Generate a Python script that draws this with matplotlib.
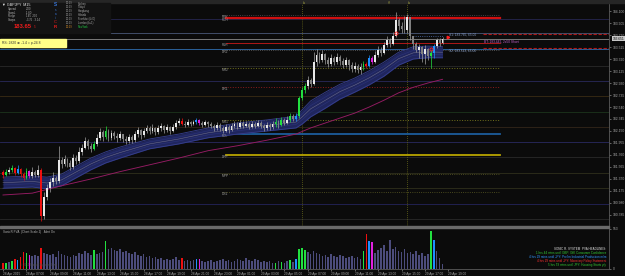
import matplotlib
matplotlib.use("Agg")
import matplotlib.pyplot as plt
import matplotlib.transforms as mtransforms
from matplotlib.patches import Rectangle
import numpy as np

plt.rcParams['font.family'] = ['Liberation Sans', 'DejaVu Sans']

W, H = 625, 276
BG = '#0b0b0b'

# GBPJPY M15 bars, 28 Apr 2015 05:00 -> 29 Apr 18:30
first_open = 181.49
closes = [
    181.44, 181.49, 181.52, 181.55, 181.47, 181.53, 181.45, 181.39, 181.50, 181.42,
    181.49, 181.44, 181.52, 180.77, 181.08, 181.22, 181.32, 181.39, 181.34, 181.68,
    181.61, 181.70, 181.63, 181.57, 181.71, 181.66, 181.81, 181.87, 181.99, 181.91,
    181.86, 181.94, 182.04, 182.14, 182.05, 182.15, 182.04, 182.12, 182.07, 182.04,
    182.10, 182.02, 181.99, 182.05, 182.00, 182.10, 182.17, 182.09, 182.15, 182.20,
    182.15, 182.20, 182.14, 182.20, 182.23, 182.17, 182.22, 182.15, 182.22, 182.28,
    182.31, 182.26, 182.25, 182.30, 182.26, 182.30, 182.33, 182.28, 182.25, 182.30,
    182.26, 182.23, 182.20, 182.25, 182.20, 182.15, 182.22, 182.17, 182.23, 182.26,
    182.22, 182.28, 182.23, 182.26, 182.22, 182.26, 182.23, 182.28, 182.23, 182.20,
    182.25, 182.22, 182.26, 182.30, 182.25, 182.33, 182.28, 182.33, 182.39, 182.35,
    182.39, 182.69, 182.82, 182.88, 182.98, 182.91, 183.27, 183.39, 183.30, 183.40,
    183.30, 183.24, 183.34, 183.27, 183.35, 183.29, 183.22, 183.30, 183.22, 183.16,
    183.21, 183.14, 183.19, 183.24, 183.21, 183.34, 183.27, 183.39, 183.47, 183.42,
    183.55, 183.63, 183.56, 183.69, 183.95, 183.86, 183.81, 183.79, 184.00, 183.69,
    183.56, 183.47, 183.52, 183.40, 183.48, 183.37, 183.42, 183.53, 183.63, 183.58,
    183.65]
highs = [
    181.52, 181.53, 181.57, 181.60, 181.57, 181.60, 181.55, 181.49, 181.55, 181.52,
    181.57, 181.52, 181.60, 181.55, 181.16, 181.29, 181.39, 181.49, 181.42, 181.91,
    181.73, 181.76, 181.71, 181.68, 181.78, 181.76, 181.89, 181.94, 182.05, 182.02,
    181.96, 181.99, 182.10, 182.20, 182.17, 182.23, 182.18, 182.17, 182.15, 182.12,
    182.15, 182.10, 182.07, 182.10, 182.09, 182.15, 182.22, 182.18, 182.20, 182.25,
    182.23, 182.26, 182.22, 182.25, 182.28, 182.25, 182.26, 182.23, 182.26, 182.33,
    182.36, 182.36, 182.31, 182.35, 182.31, 182.33, 182.36, 182.35, 182.31, 182.33,
    182.31, 182.30, 182.26, 182.30, 182.28, 182.23, 182.26, 182.25, 182.28, 182.31,
    182.30, 182.33, 182.31, 182.31, 182.30, 182.31, 182.30, 182.33, 182.31, 182.26,
    182.30, 182.28, 182.31, 182.36, 182.33, 182.38, 182.36, 182.39, 182.44, 182.43,
    182.44, 182.72, 182.86, 182.93, 183.04, 183.01, 183.43, 183.48, 183.43, 183.47,
    183.42, 183.35, 183.40, 183.37, 183.42, 183.39, 183.34, 183.35, 183.32, 183.27,
    183.27, 183.24, 183.26, 183.29, 183.27, 183.39, 183.37, 183.45, 183.53, 183.52,
    183.60, 183.69, 183.66, 183.76, 184.08, 183.99, 183.92, 184.02, 184.05, 184.00,
    183.69, 183.60, 183.56, 183.53, 183.55, 183.50, 183.47, 183.56, 183.66, 183.66,
    183.68]
lows = [
    181.39, 181.42, 181.45, 181.49, 181.44, 181.45, 181.40, 181.35, 181.37, 181.39,
    181.39, 181.40, 181.40, 180.69, 180.72, 181.03, 181.16, 181.26, 181.29, 181.31,
    181.55, 181.58, 181.57, 181.52, 181.53, 181.61, 181.63, 181.76, 181.86, 181.86,
    181.81, 181.84, 181.91, 182.00, 181.99, 182.02, 181.99, 182.00, 182.02, 181.97,
    182.00, 181.97, 181.94, 181.96, 181.96, 181.97, 182.05, 182.02, 182.05, 182.12,
    182.10, 182.12, 182.09, 182.10, 182.15, 182.12, 182.14, 182.10, 182.14, 182.18,
    182.25, 182.25, 182.22, 182.23, 182.23, 182.25, 182.26, 182.25, 182.22, 182.23,
    182.22, 182.20, 182.15, 182.17, 182.15, 182.12, 182.14, 182.12, 182.15, 182.20,
    182.18, 182.20, 182.20, 182.22, 182.18, 182.20, 182.20, 182.22, 182.20, 182.15,
    182.17, 182.17, 182.18, 182.22, 182.20, 182.23, 182.25, 182.26, 182.30, 182.31,
    182.31, 182.36, 182.65, 182.77, 182.83, 182.86, 182.90, 183.21, 183.26, 183.27,
    183.24, 183.19, 183.21, 183.22, 183.24, 183.22, 183.17, 183.19, 183.14, 183.11,
    183.11, 183.09, 183.08, 183.14, 183.17, 183.19, 183.24, 183.26, 183.35, 183.37,
    183.40, 183.52, 183.52, 183.55, 183.68, 183.79, 183.74, 183.74, 183.74, 183.63,
    183.48, 183.43, 183.34, 183.27, 183.24, 183.30, 183.17, 183.34, 183.50, 183.53,
    183.56]
# w/g plain bull/bear, G/R climax, B/M rising volume (PVA colours)
kinds = ("RGwGRBRRGM" "wgwRwwwwgw" "gwggwgwwwg" "gGwwgGgwgg" "wggwgwwgww"
         "gwgwwgwgww" "wRgwgwBMgw" "gggwggwgww" "gwgwgwgwgg" "wgwGgGgwGg"
         "BGGGwgwwgw" "ggwgwggwgg" "wgwGRBMwwg" "wwgwwgggwg" "ggwgwgGBwg" "w")
volumes = [
    83, 83, 97, 110, 138, 124, 166, 235, 221, 193,
    179, 193, 179, 290, 221, 207, 193, 207, 166, 248,
    207, 193, 179, 166, 193, 179, 221, 207, 248, 221,
    193, 262, 207, 221, 235, 386, 276, 290, 262, 248,
    276, 235, 248, 221, 207, 235, 193, 179, 207, 166,
    179, 152, 166, 138, 152, 124, 138, 124, 138, 166,
    124, 152, 110, 124, 110, 124, 138, 138, 110, 97,
    110, 124, 97, 110, 124, 138, 110, 124, 97, 110,
    138, 124, 110, 152, 124, 110, 138, 124, 97, 110,
    97, 110, 83, 83, 110, 97, 83, 110, 124, 97,
    138, 276, 290, 262, 235, 207, 248, 221, 207, 179,
    193, 166, 207, 179, 166, 193, 179, 152, 166, 179,
    152, 166, 138, 248, 483, 386, 373, 221, 262, 290,
    331, 248, 400, 276, 304, 248, 235, 276, 221, 235,
    207, 248, 193, 221, 179, 207, 524, 400, 248, 152,
    69]

# dragon ribbon (read at a few bars)
rib_idx = [0, 10, 15, 20, 25, 30, 35, 40, 50, 60, 70, 80, 90, 100, 102, 105,
           110, 115, 120, 125, 130, 135, 140, 145, 150]
rib_top = [181.40, 181.42, 181.40, 181.45, 181.58, 181.71, 181.81, 181.89, 182.02,
           182.10, 182.20, 182.28, 182.33, 182.39, 182.49, 182.64, 182.78, 182.91,
           183.01, 183.13, 183.27, 183.43, 183.52, 183.53, 183.52]
rib_bot = [181.22, 181.24, 181.21, 181.26, 181.39, 181.52, 181.63, 181.71, 181.86,
           181.94, 182.04, 182.10, 182.15, 182.20, 182.26, 182.38, 182.52, 182.67,
           182.78, 182.90, 183.04, 183.22, 183.32, 183.34, 183.34]
ema_idx = [0, 10, 20, 30, 40, 50, 60, 70, 80, 90, 100, 105, 110, 115, 120, 125,
           130, 135, 140, 145, 150]
ema89 = [181.11, 181.14, 181.26, 181.37, 181.49, 181.60, 181.71, 181.83, 181.91,
         182.00, 182.10, 182.20, 182.28, 182.36, 182.44, 182.54, 182.65, 182.77,
         182.86, 182.93, 182.99]

price_ticks = [184.100, 183.905, 183.710, 183.515, 183.320, 183.125, 182.930,
               182.735, 182.540, 182.345, 182.150, 181.955, 181.760, 181.565,
               181.370, 181.175, 180.980, 180.785]
time_idx = list(range(0, 153, 8))
time_lbl = ['28 Apr 2015', '28 Apr 07:00', '28 Apr 09:00', '28 Apr 11:00',
            '28 Apr 13:00', '28 Apr 15:00', '28 Apr 17:00', '28 Apr 19:00',
            '28 Apr 21:00', '28 Apr 23:00', '29 Apr 01:00', '29 Apr 03:00',
            '29 Apr 05:00', '29 Apr 07:00', '29 Apr 09:00', '29 Apr 11:00',
            '29 Apr 13:00', '29 Apr 15:00', '29 Apr 17:00', '29 Apr 19:00']

# pivot levels (drawn from the middle of the chart)
piv_names = ['R2H', 'PDH', 'R1H', 'DR2', 'MR2', 'DR1', 'MR1', 'PDL', 'DPP', 'MPP', 'DS1']
piv_vals = [184.04, 183.99, 183.58, 183.47, 183.17, 182.86, 182.33, 182.10, 181.76, 181.45, 181.16]
piv_cols = ['#555555', '#d01010', '#b01818', '#666666', '#70701c', '#8a1c1c', '#70701c',
            '#1c5c9c', '#b8a400', '#5c5c24', '#5c5c24']
piv_ls = [':', '-', '-', ':', ':', ':', ':', '-', '-', ':', ':']
piv_lw = [0.6, 1.6, 0.7, 0.6, 0.7, 0.7, 0.7, 1.3, 1.3, 0.6, 0.6]

# faint full-width levels
lvl_vals = [183.97, 183.74, 183.49, 183.21, 182.96, 182.72, 182.46, 182.22, 181.97,
            181.73, 181.47, 181.22, 180.96, 180.72]
lvl_cols = ['#262650', '#4a5878', '#2f6fb0', '#2a2a2a', '#2a2a5a', '#3a2c14', '#1c341c',
            '#33261a', '#2a2a60', '#2a2a2a', '#30301c', '#30301c', '#24245a', '#2a2a2a']

bid = 183.65

fig = plt.figure(figsize=(W / 100, H / 100), dpi=100, facecolor=BG)


def px_axes(x0, y0, x1, y1):
    return fig.add_axes([x0 / W, 1 - y1 / H, (x1 - x0) / W, (y1 - y0) / H])


ax = px_axes(0, 4, 609, 226)
axv = px_axes(0, 228, 609, 269)
for a in (ax, axv):
    a.set_facecolor(BG)
    a.set_xlim(-1.02, 206.8)
    for s in ('top', 'left', 'bottom'):
        a.spines[s].set_visible(False)
    a.spines['right'].set_color('#5a5a5a')
    a.spines['right'].set_linewidth(0.6)
    a.yaxis.tick_right()
    a.tick_params(axis='y', labelsize=2.4, colors='#a8a8a8', length=1.5, width=0.4, pad=1)

ax.set_ylim(180.606, 184.214)
ax.set_yticks(price_ticks)
ax.set_yticklabels(['%.3f' % p for p in price_ticks])
ax.set_xticks([])

# faint levels
for v, c in zip(lvl_vals, lvl_cols):
    ax.axhline(v, color=c, lw=0.6, zorder=1)
ax.axhline(bid, color='#8a8a8a', lw=0.6, zorder=1)

# pivots
trans = mtransforms.blended_transform_factory(ax.transAxes, ax.transData)
for n, v, c, ls, lw in zip(piv_names, piv_vals, piv_cols, piv_ls, piv_lw):
    x0 = 0.371 if ls == '-' and n != 'PDL' else 0.3645
    ax.axhline(v, xmin=x0, xmax=0.821, color=c, ls=ls, lw=lw, zorder=2)
    ax.text(0.3645, v - 0.03, n, transform=trans,
            fontsize=2.3, color='#9c9c9c', va='center', ha='left', zorder=6)

# red target lines at right
for v in (183.73, 183.50):
    ax.axhline(v, xmin=0.793, xmax=1.0, color='#b01818', ls=(0, (3, 1.5)), lw=0.8, zorder=2)

# session separators
for xi in (102, 138):
    ax.axvline(xi, color='#6a6a1a', ls=(0, (1, 1.5)), lw=0.6, zorder=1)

# dragon ribbon
rt = np.array(rib_top)
rb = np.array(rib_bot)
ax.fill_between(rib_idx, rb, rt, color='#20265e', lw=0, zorder=3)
ax.plot(rib_idx, rt, color='#363f8e', lw=0.6, zorder=3)
ax.plot(rib_idx, rb, color='#363f8e', lw=0.6, zorder=3)
ax.plot(rib_idx, rb + (rt - rb) * 0.3, color='#2c347c', lw=0.4, zorder=3)
ax.plot(rib_idx, rb + (rt - rb) * 0.7, color='#2c347c', lw=0.4, zorder=3)
ax.plot(rib_idx, (rt + rb) / 2, color='#6a6a88', lw=0.4, zorder=3)

ax.plot(ema_idx, ema89, color='#961c64', lw=0.65, zorder=3)

# candles
col_map = {'w': '#e8e8e8', 'g': '#808080', 'G': '#22e040', 'R': '#ee1010',
           'B': '#1e90ff', 'M': '#e020e0'}
n = len(closes)
xs = np.arange(n)
opens = np.array([first_open] + closes[:-1])
cl = np.array(closes)
cols = [col_map[k] for k in kinds]
wick_cols = [col_map[k] if k not in 'wg' else '#a0a0a0' for k in kinds]
ax.vlines(xs, lows, highs, colors=wick_cols, lw=0.5, zorder=4)
body_lo = np.minimum(opens, cl)
body_h = np.maximum(np.abs(cl - opens), 0.01)
ax.bar(xs, body_h, bottom=body_lo, width=0.62, color=cols, ec='none', zorder=5)

# signal rings and last-price marker
ax.plot([134, 146], [183.74, 183.48], 'o', ms=2.2, mfc='none', mec='#ff2020', mew=0.6, zorder=6)
ax.plot([152], [183.67], '>', ms=1.8, color='#ff2020', zorder=6)
ax.hlines(183.70, 140, 150, colors='#5070b0', ls=':', lw=0.6, zorder=4)

ax.text(0.737, 183.72, 'S1: 183.765, 65.00', transform=trans, fontsize=2.3, color='#8aa0c8', va='center')
ax.text(0.737, 183.46, 'S2: 183.523, 65.00', transform=trans, fontsize=2.3, color='#8aa0c8', va='center')
ax.text(0.795, 183.60, 'BT: 183.442, 2x50 Short', transform=trans, fontsize=2.3, color='#c060c8', va='center')
ax.text(1.006, bid, '183.651', transform=trans, fontsize=2.3, color='#000000', va='center', ha='left',
        bbox=dict(fc='#c8c8c8', ec='none', pad=0.4), clip_on=False, zorder=7)

# volume window
vcols = [col_map[k] if k not in 'wg' else '#4c4c7c' for k in kinds]
axv.bar(xs, volumes, width=0.55, color=vcols, ec='none')
axv.set_ylim(0, 566)
axv.set_yticks([0, 553])
axv.set_yticklabels(['0', '553'])
axv.set_xticks(time_idx)
axv.set_xticklabels(time_lbl)
axv.tick_params(axis='x', labelsize=2.3, colors='#a8a8a8', length=1.5, width=0.4, pad=0.6)
for lbl in axv.get_xticklabels():
    lbl.set_ha('left')
axv.spines['bottom'].set_visible(True)
axv.spines['bottom'].set_color('#5a5a5a')
axv.spines['bottom'].set_linewidth(0.6)

# overlay in pixel coordinates for window furniture
ov = fig.add_axes([0, 0, 1, 1], zorder=10)
ov.set_xlim(0, W)
ov.set_ylim(H, 0)
ov.axis('off')
ov.patch.set_alpha(0)
ov.add_patch(Rectangle((0, 0), W, 2.5, color='#262626'))
ov.add_patch(Rectangle((0, 226), 609, 2, color='#6a6a6a'))

# info box
ov.add_patch(Rectangle((0, 2.5), 110, 30, color='#131313'))
ov.text(2, 4.5, '\u25bc GBPJPY  M15', fontsize=2.7, color='#e8e8e8', va='center')
info_k = ['Spread', 'SwapL', 'Range', 'Swaps']
info_v = ['2.00', '-1.60', '145  200', '-3.76  -3.14']
for j, (k, v) in enumerate(zip(info_k, info_v)):
    ov.text(8, 9 + j * 3.6, k, fontsize=2.0, color='#b0b0b0', va='center')
    ov.text(26, 9 + j * 3.6, v, fontsize=2.0, color='#b0b0b0', va='center')
ov.text(14, 26.5, '183.65', fontsize=4.2, color='#ee1c1c', fontweight='bold', va='center')
ov.text(33.5, 27.5, '5', fontsize=2.2, color='#ee1c1c', va='center')
ov.text(54, 5, 'S', fontsize=3.4, color='#3a7ae0', fontweight='bold', va='center')
for j, ch in enumerate(['s', 'a', 'i']):
    ov.text(55, 10 + j * 4, ch, fontsize=2.2, color='#3a7ae0', va='center')
ov.text(54, 22, 'C', fontsize=3.0, color='#ee1c1c', va='center')
ov.text(54, 27, 'R', fontsize=3.2, color='#ee1c1c', fontweight='bold', va='center')
cities = ['Sydney', 'Tokyo', 'Hongkong', 'Helsinki', 'Frankfurt (L/O)', 'London (b+1)', 'NewYork']
for j, c in enumerate(cities):
    tc = '#d08a2a' if j == 6 else '#9a9a9a'
    cc = '#22cc44' if j == 6 else '#a8a8a8'
    ov.text(66, 3.5 + j * 3.9, '00:29', fontsize=1.9, color=tc, va='center')
    ov.text(78, 3.5 + j * 3.9, c, fontsize=1.9, color=cc, va='center')

# yellow status box
ov.add_patch(Rectangle((0, 39), 66, 8, color='#ffff88'))
ov.text(1.5, 43, 'RS: 2820 \u2295 -1.4 = p-24.8', fontsize=2.4, color='#333333', va='center')

# top markers
ov.text(303, 2.8, 'Lo', fontsize=2.0, color='#a0a040', va='center')
ov.text(388, 2.8, 'Hi', fontsize=2.0, color='#a0a040', va='center')
ov.text(408, 2.8, 'Lo', fontsize=2.0, color='#a0a040', va='center')

# volume window text
ov.text(3, 231.5, 'SonicR PVA  (Chart Scale 2)   Alert On', fontsize=2.2, color='#b0b0b0', va='center')
ov.text(20, 265, '\u00a9 2013 SonicR Systems Corp', fontsize=2.0, color='#505050', va='center')
head = ['SONIC R. SYSTEM  PVA HEADLINES:',
        '1 hrs 44 mins until GBP: GfK Consumer Confidence',
        '4 hrs 29 mins until JPY: Prelim Industrial Production m/m',
        '4 hrs 29 mins until JPY: Monetary Policy Statement',
        '5 hrs 59 mins until JPY: Housing Starts y/y']
head_c = ['#e0e0e0', '#33cc33', '#3399ff', '#ff3030', '#33cc33']
for j, (t, c) in enumerate(zip(head, head_c)):
    ov.text(606, 249 + j * 4, t, fontsize=2.2, color=c, va='center', ha='right')

fig.savefig('out.png', dpi=100, facecolor=BG)
